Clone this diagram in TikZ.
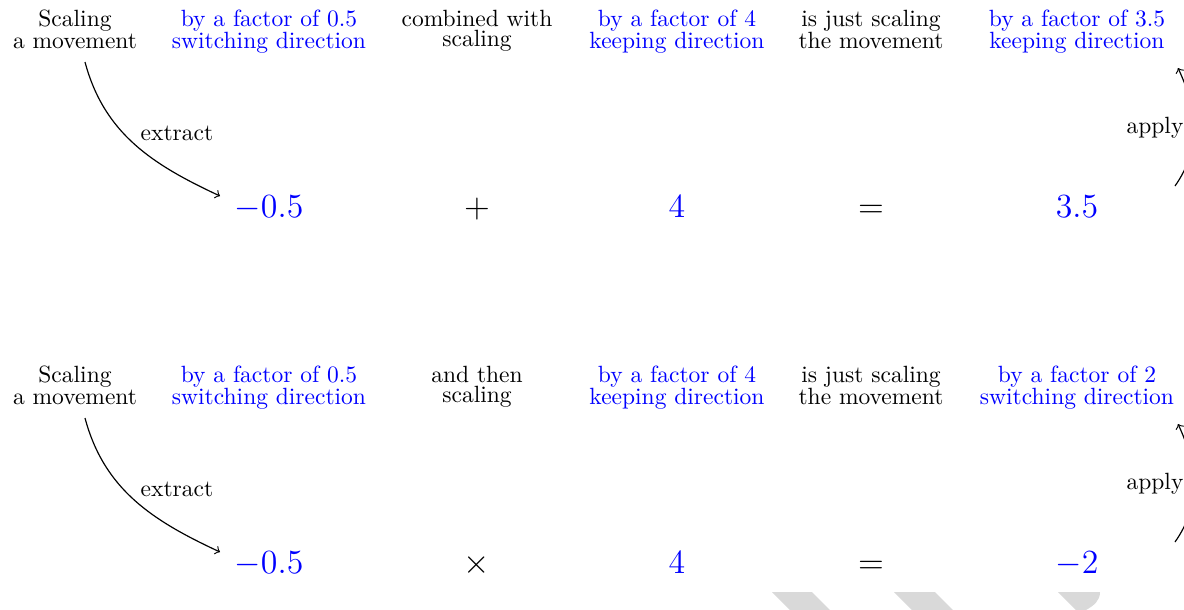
\documentclass[tikz,border=0pt]{standalone}
\usetikzlibrary{calc}
\newcommand\tightlines{\fontsize{10pt}{9.3pt}\selectfont\lineskiplimit=-20pt\relax}
\newcommand\tighterlines{\fontsize{10pt}{8.2pt}\selectfont\lineskiplimit=-20pt\relax}
\begin{document}
\begin{tikzpicture}[x=0.4255pt,y=0.4255pt,
  lbl/.style={align=center, anchor=base, inner sep=0pt, font=\tightlines},
  clbl/.style={lbl, font=\tighterlines},
  blbl/.style={lbl, text=blue},
  num/.style={font=\Large, anchor=base, inner sep=3pt},
  bnum/.style={num, text=blue},
  arr/.style={->, line width=0.5pt},
  tag/.style={anchor=base, inner sep=0pt},
  stripe/.style={fill=gray!30, draw=none}]
\useasboundingbox (0,0) rectangle (1184,-609);
\clip (0,0) rectangle (1184,-609);
% ---------- top block ----------
\node[lbl]  (a1) at (75,-48)   {Scaling\\a movement};
\node[blbl] (b1) at (269,-48)  {by a factor of 0.5\\switching direction};
\node[clbl] (c1) at (477,-46)  {combined with\\scaling};
\node[blbl] (d1) at (677,-48)  {by a factor of 4\\keeping direction};
\node[lbl]  (e1) at (871,-48)  {is just scaling\\the movement};
\node[blbl] (f1) at (1077,-48) {by a factor of 3.5\\keeping direction};
\node[bnum] (nb1) at (269,-217.5)  {$-0.5$};
\node[num]  (nc1) at (477,-217.5)  {$+$};
\node[bnum] (nd1) at (677,-217.5)  {$4$};
\node[num]  (ne1) at (871,-217.5)  {$=$};
\node[bnum] (nf1) at (1077,-217.5) {$3.5$};
\node[tag]  (x1) at (177,-140) {extract};
\node[tag]  (p1) at (1155,-133) {apply};
\draw[arr] ($(a1.base)+(10,-14)$) to[out=-75,in=155] ($(nb1.base)+(-49,21.5)$);
\draw[arr] ($(nf1.base)+(98,31.5)$) to[out=55,in=-65] ($(f1.base)+(101,-20)$);
% ---------- bottom block ----------
\node[lbl]  (a2) at (75,-404)   {Scaling\\a movement};
\node[blbl] (b2) at (269,-404)  {by a factor of 0.5\\switching direction};
\node[clbl] (c2) at (477,-402)  {and then\\scaling};
\node[blbl] (d2) at (677,-404)  {by a factor of 4\\keeping direction};
\node[lbl]  (e2) at (871,-404)  {is just scaling\\the movement};
\node[blbl] (f2) at (1077,-404) {by a factor of 2\\switching direction};
\node[bnum] (nb2) at (269,-573.5)  {$-0.5$};
\node[num]  (nc2) at (477,-573.5)  {$\times$};
\node[bnum] (nd2) at (677,-573.5)  {$4$};
\node[num]  (ne2) at (871,-573.5)  {$=$};
\node[bnum] (nf2) at (1077,-573.5) {$-2$};
\node[tag]  (x2) at (177,-496) {extract};
\node[tag]  (p2) at (1155,-489) {apply};
\draw[arr] ($(a2.base)+(10,-14)$) to[out=-75,in=155] ($(nb2.base)+(-49,21.5)$);
\draw[arr] ($(nf2.base)+(98,31.5)$) to[out=55,in=-65] ($(f2.base)+(101,-20)$);
% ---------- grey stripes at the bottom ----------
\fill[stripe] (772,-592) -- (812,-592) -- (830,-610) -- (790,-610) -- cycle;
\fill[stripe] (894,-592) -- (935,-592) -- (953,-610) -- (912,-610) -- cycle;
\fill[stripe] (1058,-592) -- (1100,-592) to[out=-90,in=30] (1086,-610) -- (1076,-610) -- cycle;
\end{tikzpicture}
\end{document}
